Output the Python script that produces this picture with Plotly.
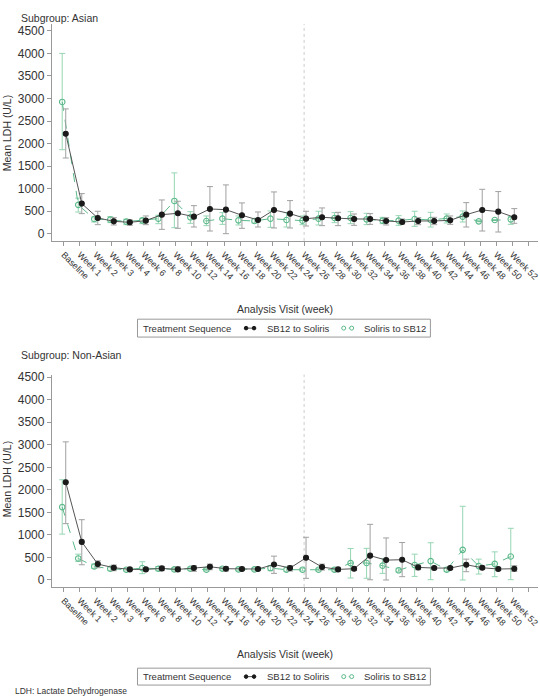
import plotly.graph_objects as go

categories = ["Baseline", "Week 1", "Week 2", "Week 3", "Week 4", "Week 6", "Week 8", "Week 10",
              "Week 12", "Week 14", "Week 16", "Week 18", "Week 20", "Week 22", "Week 24", "Week 26",
              "Week 28", "Week 30", "Week 32", "Week 34", "Week 36", "Week 38", "Week 40", "Week 42",
              "Week 44", "Week 46", "Week 48", "Week 50", "Week 52"]
tick_labels = categories + [""]
y_ticks = [0, 500, 1000, 1500, 2000, 2500, 3000, 3500, 4000, 4500]
series_names = ["SB12 to Soliris", "Soliris to SB12"]
legend_title = "Treatment Sequence"

# Subgroup: Asian
asian_sb12_mean = [2216, 667, 348, 274, 252, 289, 422, 452, 378, 548, 533, 408, 304, 526, 445, 333,
                   363, 341, 326, 326, 282, 259, 282, 282, 296, 422, 526, 489, 363]
asian_sb12_upper = [2769, 889, 497, 356, 304, 393, 748, 719, 622, 1045, 1082, 682, 482, 926, 734, 497,
                    571, 474, 437, 445, 356, 326, 356, 363, 393, 689, 985, 934, 556]
asian_sb12_lower = [1679, 445, 200, 193, 185, 200, 96, 119, 148, 59, 0, 119, 148, 126, 126, 170,
                    178, 178, 185, 207, 193, 215, 200, 200, 207, 148, 59, 37, 230]
asian_sol_mean = [2923, 640, 326, 311, 267, 296, 333, 726, 363, 282, 333, 296, 282, 333, 304, 289,
                  333, 348, 348, 318, 289, 289, 326, 304, 333, 378, 274, 304, 318]
asian_sol_upper = [4000, 790, 370, 378, 319, 341, 408, 1349, 489, 393, 467, 393, 333, 504, 467, 393,
                   497, 467, 489, 452, 363, 400, 497, 474, 437, 504, 285, 315, 378]
asian_sol_lower = [1863, 480, 259, 245, 200, 222, 222, 133, 230, 178, 207, 193, 237, 141, 148, 200,
                   193, 245, 222, 200, 222, 185, 163, 148, 237, 259, 263, 293, 207]

# Subgroup: Non-Asian
non_sb12_mean = [2168, 845, 353, 272, 235, 235, 257, 235, 265, 294, 250, 243, 243, 345, 265, 492,
                 287, 235, 250, 540, 441, 450, 279, 265, 265, 338, 272, 243, 250]
non_sb12_upper = [3065, 1338, 426, 331, 272, 265, 301, 294, 316, 353, 294, 280, 280, 529, 316, 948,
                  353, 279, 290, 1235, 933, 831, 331, 300, 300, 463, 310, 280, 316]
non_sb12_lower = [1250, 338, 272, 206, 206, 206, 206, 191, 191, 228, 198, 210, 210, 147, 198, 37,
                  220, 191, 210, 5, 0, 74, 228, 230, 230, 184, 235, 210, 191]
non_sol_mean = [1617, 478, 301, 250, 228, 265, 250, 235, 250, 228, 250, 235, 235, 265, 228, 228,
                228, 228, 375, 378, 318, 215, 331, 419, 227, 669, 309, 358, 521]
non_sol_upper = [2224, 573, 353, 294, 260, 404, 301, 270, 285, 260, 285, 265, 265, 316, 272, 260,
                 260, 279, 698, 702, 478, 260, 573, 826, 279, 1635, 463, 624, 1147]
non_sol_lower = [1018, 412, 257, 206, 200, 140, 206, 200, 215, 200, 215, 205, 205, 206, 191, 200,
                 200, 184, 44, 38, 147, 180, 80, 7, 191, 0, 132, 73, 7]

W, H = 540, 697
def fx(p):
    return p / W
def fy(p):
    return 1 - p / H

BLACK = "#1a1a1a"
BLACK_LINE = "#555555"
BLACK_ERR = "#a0a0a0"
GREEN = "#5cb98a"
GREEN_ERR = "#96d6b3"

fig = go.Figure()
idx = list(range(len(categories)))

def add_series(mean, up, lo, name, xa, ya, color, linecolor, errcolor,
               symbol, size, dash, offset):
    fig.add_trace(go.Scatter(
        x=[i + offset for i in idx], y=mean,
        error_y=dict(type="data", symmetric=False,
                     array=[u - m for u, m in zip(up, mean)],
                     arrayminus=[m - l for m, l in zip(mean, lo)],
                     color=errcolor, thickness=1, width=3),
        mode="lines+markers", name=name,
        line=dict(color=linecolor, width=1, dash=dash),
        marker=dict(color=color, symbol=symbol, size=size, line=dict(color=color, width=1.1)),
        xaxis=xa, yaxis=ya, showlegend=False,
        hoverinfo="skip",
    ))

for xa, ya, sm, su, sl, gm, gu, gl in [
    ("x", "y", asian_sb12_mean, asian_sb12_upper, asian_sb12_lower,
     asian_sol_mean, asian_sol_upper, asian_sol_lower),
    ("x2", "y2", non_sb12_mean, non_sb12_upper, non_sb12_lower,
     non_sol_mean, non_sol_upper, non_sol_lower),
]:
    add_series(gm, gu, gl, series_names[1], xa, ya, GREEN, GREEN, GREEN_ERR,
               "circle-open", 5.5, "dash", -0.1)
    add_series(sm, su, sl, series_names[0], xa, ya, BLACK, BLACK_LINE, BLACK_ERR,
               "circle", 5, "solid", 0.12)

font_family = "Liberation Sans, Arial, sans-serif"
xcommon = dict(
    range=[-0.75, 29.6], tickmode="array", tickvals=list(range(len(tick_labels))),
    ticktext=tick_labels, tickangle=45, ticks="outside", ticklen=4, tickcolor="#999999",
    showline=True, linecolor="#999999", linewidth=1, showgrid=False, zeroline=False,
    tickfont=dict(size=9, color="#333333", family=font_family),
    ticklabeloverflow="allow",
    domain=[fx(52), 1.0],
)
ycommon = dict(
    tickmode="array", tickvals=y_ticks, ticks="outside", ticklen=4, tickcolor="#999999",
    showline=True, linecolor="#999999", linewidth=1, showgrid=False, zeroline=False,
    tickfont=dict(size=12, color="#333333", family=font_family),
)

fig.update_layout(
    width=W, height=H, autosize=False,
    margin=dict(l=0, r=0, t=0, b=0),
    paper_bgcolor="white", plot_bgcolor="white",
    font=dict(family=font_family, color="#333333"),
    xaxis=dict(**xcommon, anchor="y"),
    yaxis=dict(**ycommon, range=[-161, 4655], domain=[fy(238.3), fy(20)], anchor="x"),
    xaxis2=dict(**xcommon, anchor="y2"),
    yaxis2=dict(**ycommon, range=[-154, 4558], domain=[fy(586.3), fy(372.7)], anchor="x2"),
    showlegend=False,
)

for xr, yr in [("x", "y domain"), ("x2", "y2 domain")]:
    fig.add_shape(type="line", xref=xr, yref=yr, x0=15, x1=15, y0=0, y1=1,
                  line=dict(color="#cccccc", width=1, dash="dot"), layer="below")

def ann(text, x, y, size=10.5, angle=0, xanchor="left"):
    fig.add_annotation(text=text, x=fx(x), y=fy(y), xref="paper", yref="paper",
                       showarrow=False, xanchor=xanchor, yanchor="middle", textangle=angle,
                       font=dict(size=size, color="#333333", family=font_family))

def circle(cx, cy, r, color, filled):
    fig.add_shape(type="circle", xref="paper", yref="paper",
                  x0=fx(cx - r), x1=fx(cx + r), y0=fy(cy + r), y1=fy(cy - r),
                  line=dict(color=color, width=1),
                  fillcolor=color if filled else "white")

# legend boxes (one per panel)
for top, bot in [(317, 335), (668, 685)]:
    cy = (top + bot) / 2
    fig.add_shape(type="rect", xref="paper", yref="paper", x0=fx(138), x1=fx(432),
                  y0=fy(bot), y1=fy(top), line=dict(color="#999999", width=1),
                  fillcolor="rgba(0,0,0,0)")
    ann(legend_title, 142, cy, size=9.5)
    # SB12 to Soliris icon
    fig.add_shape(type="line", xref="paper", yref="paper", x0=fx(246), x1=fx(256),
                  y0=fy(cy), y1=fy(cy), line=dict(color=BLACK_LINE, width=1))
    circle(247, cy, 1.8, BLACK, True)
    circle(255, cy, 1.8, BLACK, True)
    ann(series_names[0], 266, cy, size=9.5)
    # Soliris to SB12 icon
    fig.add_shape(type="line", xref="paper", yref="paper", x0=fx(344), x1=fx(354),
                  y0=fy(cy), y1=fy(cy), line=dict(color=GREEN, width=1, dash="dot"))
    circle(345, cy, 2, GREEN, False)
    circle(353, cy, 2, GREEN, False)
    ann(series_names[1], 363, cy, size=9.5)

ann("Subgroup: Asian", 19, 14)
ann("Subgroup: Non-Asian", 19, 353)
ann("Mean LDH (U/L)", 7, 130, angle=-90, xanchor="center")
ann("Mean LDH (U/L)", 7, 478, angle=-90, xanchor="center")
ann("Analysis Visit (week)", 286, 307, xanchor="center")
ann("Analysis Visit (week)", 286, 654, xanchor="center")
ann("LDH: Lactate Dehydrogenase", 13, 691, size=8.5)

fig.write_html("out.html")
